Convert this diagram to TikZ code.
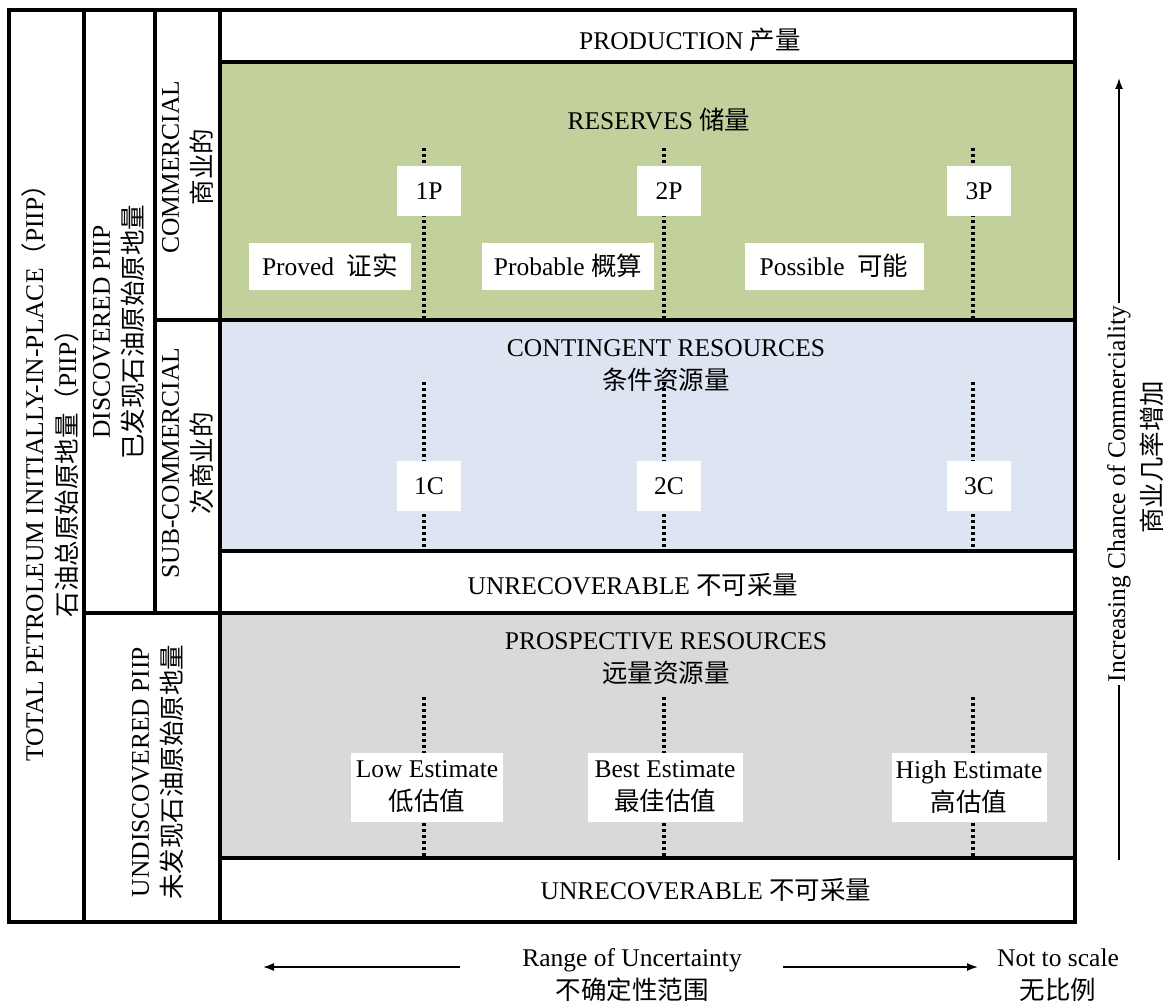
\documentclass[tikz,border=0pt]{standalone}
\usepackage{fontspec}
\setmainfont{Liberation Serif}
\newfontfamily\cjk{Noto Sans CJK SC}
\usetikzlibrary{positioning,arrows.meta}
\definecolor{resgreen}{RGB}{194,209,156}
\definecolor{conblue}{RGB}{220,229,241}
\definecolor{progray}{RGB}{217,217,217}
\tikzstyle{cell}=[line width=3.5pt]
\tikzstyle{tag}=[fill=white,inner sep=0pt,align=center]
\tikzstyle{cut}=[line width=4pt,dash pattern=on 3pt off 3pt]
\tikzstyle{side}=[rotate=90,align=center]
\tikzstyle{axis}=[line width=1.6pt]
\newcommand{\newTag}[5]{\node[tag,minimum width=#4,minimum height=#5](#1) at #2 {#3};}
\newcommand{\newCut}[4]{\coordinate (#1t) at (#2,#3); \coordinate (#1b) at (#2,#4);
  \draw[cut] (#1t) -- (#1b);}

\begin{document}
\begin{tikzpicture}[x=1pt,y=-1pt,>={Latex[length=11pt,width=8pt]},
      font=\fontsize{25.5}{33}\selectfont
      ]
      \useasboundingbox (0,0) rectangle (1172,1006);
      % coloured bands
      \fill[resgreen] (220,62) rectangle (1075,320);
      \fill[conblue] (220,320) rectangle (1075,551);
      \fill[progray] (220,613) rectangle (1075,858);
      % grid
      \draw[cell] (9,10) rectangle (1075,922);
      \draw[cell] (84,10) -- (84,922);
      \draw[cell] (155,10) -- (155,613);
      \draw[cell] (220,10) -- (220,922);
      \draw[cell] (220,62) -- (1075,62);
      \draw[cell] (155,320) -- (1075,320);
      \draw[cell] (220,551) -- (1075,551);
      \draw[cell] (84,613) -- (1075,613);
      \draw[cell] (220,858) -- (1075,858);
      % class columns
      \node[side] (piip) at (50,467) {TOTAL PETROLEUM INITIALLY-IN-PLACE{\cjk （}PIIP{\cjk ）}\\{\cjk 石油总原始原地量（}PIIP{\cjk ）}};
      \node[side] (disc) at (119,332) {DISCOVERED PIIP\\{\cjk 已发现石油原始原地量}};
      \node[side] (undisc) at (158,772) {UNDISCOVERED PIIP\\{\cjk 未发现石油原始原地量}};
      \node[side] (comm) at (188,167) {COMMERCIAL\\{\cjk 商业的}};
      \node[side] (subcomm) at (188,463) {SUB-COMMERCIAL\\{\cjk 次商业的}};
      % bands
      \node (prod) at (690,40) {PRODUCTION {\cjk 产量}};
      \node (res) at (659,120) {RESERVES {\cjk 储量}};
      \node[align=center] (cont) at (666,366) {CONTINGENT RESOURCES\\{\cjk 条件资源量}};
      \node (unrec1) at (633,585) {UNRECOVERABLE {\cjk 不可采量}};
      \node[align=center] (pros) at (666,659) {PROSPECTIVE RESOURCES\\{\cjk 远量资源量}};
      \node (unrec2) at (706,890) {UNRECOVERABLE {\cjk 不可采量}};
      % reserves
      \newCut{p1}{424}{148}{320}
      \newCut{p2}{664}{148}{320}
      \newCut{p3}{973}{148}{320}
      \newTag{p1}{(429,191)}{1P}{64pt}{50pt}
      \newTag{p2}{(669,191)}{2P}{64pt}{50pt}
      \newTag{p3}{(979,191)}{3P}{64pt}{50pt}
      \newTag{proved}{(330,266)}{Proved\ \ {\cjk 证实}}{162pt}{47pt}
      \newTag{probable}{(568,266)}{Probable {\cjk 概算}}{172pt}{47pt}
      \newTag{possible}{(834,266)}{Possible\ \ {\cjk 可能}}{179pt}{47pt}
      % contingent
      \newCut{c1}{424}{382}{551}
      \newCut{c2}{664}{382}{551}
      \newCut{c3}{973}{382}{551}
      \newTag{c1}{(429,486)}{1C}{64pt}{50pt}
      \newTag{c2}{(669,486)}{2C}{64pt}{50pt}
      \newTag{c3}{(979,486)}{3C}{64pt}{50pt}
      % prospective
      \newCut{e1}{424}{697}{858}
      \newCut{e2}{664}{697}{858}
      \newCut{e3}{973}{697}{858}
      \newTag{low}{(427,787)}{Low Estimate\\{\cjk 低估值}}{152pt}{69pt}
      \newTag{best}{(665,787)}{Best Estimate\\{\cjk 最佳估值}}{155pt}{69pt}
      \newTag{high}{(969,787)}{High Estimate\\{\cjk 高估值}}{155pt}{69pt}
      % axes
      \node[align=center] (range) at (632,975) {Range of Uncertainty\\{\cjk 不确定性范围}};
      \node[align=center] (scale) at (1058,975) {Not to scale\\{\cjk 无比例}};
      \coordinate (la) at (460,967);
      \coordinate (lb) at (263,967);
      \coordinate (ra) at (783,967);
      \coordinate (rb) at (978,967);
      \draw[->,axis] (la) -- (lb);
      \draw[->,axis] (ra) -- (rb);
      \node[rotate=90,inner sep=3pt] (chance) at (1119,494) {Increasing Chance of Commerciality};
      \node[rotate=90] (chancecn) at (1152,457) {\cjk 商业几率增加};
      \coordinate (cbot) at (1119,860);
      \coordinate (ctop) at (1119,78);
      \draw[axis] (cbot) -- (chance.west);
      \draw[->,axis] (chance.east) -- (ctop);
\end{tikzpicture}
\end{document}
